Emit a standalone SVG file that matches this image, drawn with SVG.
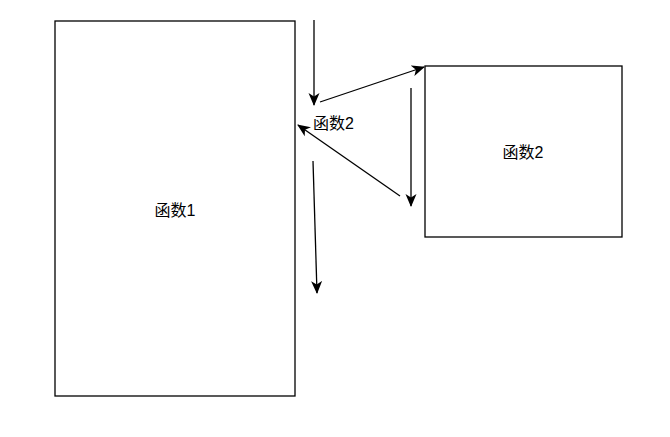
<svg xmlns="http://www.w3.org/2000/svg" width="670" height="437" viewBox="0 0 670 437">
<style>
.box{fill:#fff;stroke:#000;stroke-width:1.3}
.lbl{font-family:"Liberation Sans","Noto Sans CJK SC",sans-serif;font-size:16px;fill:#000}
.edge{stroke:#000;stroke-width:1.3;fill:none;marker-end:url(#ah)}
</style>
<defs>
<marker id="ah" markerUnits="userSpaceOnUse" markerWidth="14" markerHeight="12" refX="12" refY="5.5" orient="auto" viewBox="0 0 14 11">
<path d="M0,0 L13,5.5 L0,11 L3.5,5.5 z" fill="#000"/>
</marker>
</defs>
<rect width="670" height="437" fill="#fff"/>
<g id="node1">
<rect class="box" x="55" y="21" width="240" height="375"/>
<text class="lbl" x="175" y="216" text-anchor="middle">函数1</text>
</g>
<g id="node2">
<rect class="box" x="425" y="66" width="197" height="171"/>
<text class="lbl" x="523" y="158" text-anchor="middle">函数2</text>
</g>
<g id="node3">
<text class="lbl" x="313" y="129">函数2</text>
</g>
<g id="edges">
<line class="edge" x1="314" y1="20" x2="314" y2="105"/>
<line class="edge" x1="320" y1="102" x2="424" y2="67"/>
<line class="edge" x1="411" y1="88" x2="411" y2="206"/>
<line class="edge" x1="400" y1="196" x2="298" y2="125"/>
<line class="edge" x1="313" y1="161" x2="317" y2="293"/>
</g>
</svg>
